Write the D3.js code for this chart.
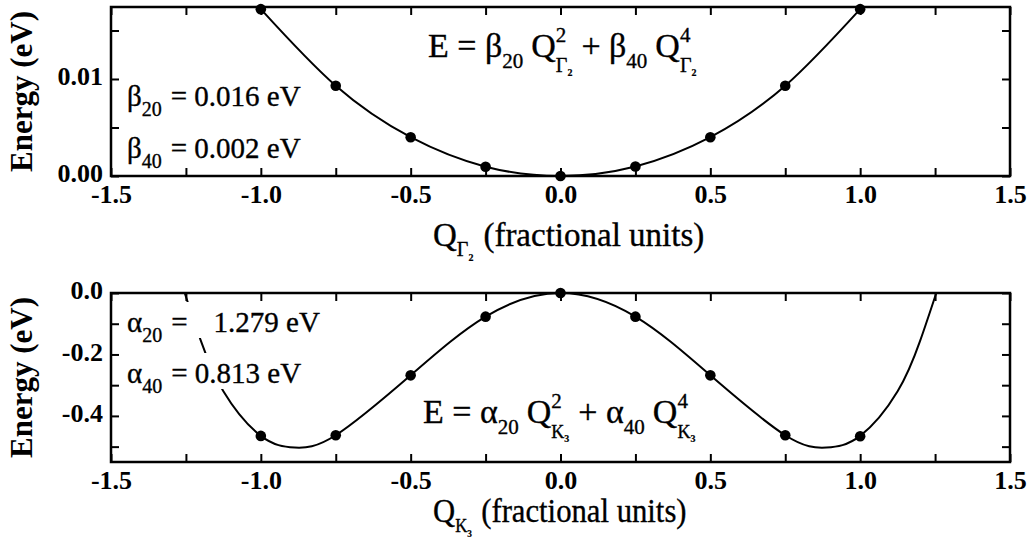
<!DOCTYPE html>
<html>
<head>
<meta charset="utf-8">
<script src="https://cdn.jsdelivr.net/npm/d3@7"></script>
<style>
  body { margin: 0; background: #fff; }
  text { font-family: "Liberation Serif", "Times New Roman", serif; fill: #000; }
</style>
</head>
<body>
<div id="chart"></div>
<script>
// ---- data ----
// sampled displacements (fractional units)
var qSample = [-1.0, -0.75, -0.5, -0.25, 0.0, 0.25, 0.5, 0.75, 1.0];
// Gamma2 mode energies (eV)
var gammaEnergy = [0.0172, 0.0093, 0.0040, 0.00096, 0.0, 0.00098, 0.0040, 0.0093, 0.0172];
// K3 mode energies (eV)
var kappaEnergy = [-0.465, -0.463, -0.268, -0.077, 0.0, -0.077, -0.268, -0.463, -0.466];

// fitted quartic curve of the K3 mode
var kappaCurveQ = [-1.254, -1.2, -1.125, -1.0, -0.887, -0.75, -0.5, -0.25, 0.0, 0.25, 0.5, 0.75, 0.887, 1.0, 1.125, 1.2, 1.254];
var kappaCurveE = [0.0, -0.156, -0.32, -0.465, -0.503, -0.463, -0.268, -0.077, 0.0, -0.077, -0.268, -0.463, -0.503, -0.465, -0.32, -0.156, 0.0];

// ticks
var xTicks = [-1.5, -1.25, -1.0, -0.75, -0.5, -0.25, 0.0, 0.25, 0.5, 0.75, 1.0, 1.25, 1.5];
var xTickLabels = {"-1.5": "-1.5", "-1": "-1.0", "-0.5": "-0.5", "0": "0.0", "0.5": "0.5", "1": "1.0", "1.5": "1.5"};
var yTicksTop = [0.0, 0.005, 0.01, 0.015];
var yTickLabelsTop = {"0": "0.00", "0.01": "0.01"};
var yTicksBottom = [0.0, -0.1, -0.2, -0.3, -0.4, -0.5];
var yTickLabelsBottom = {"0": "0.0", "-0.2": "-0.2", "-0.4": "-0.4"};

var width = 1030, height = 553;

var svg = d3.select("#chart").append("svg")
            .attr("width", width)
            .attr("height", height);

svg.append("rect").attr("width", width).attr("height", height).attr("fill", "#fff");

// lay out a run of text pieces (sub/superscripts) one after another
function richText(g, x, y, parts, boxPad) {
  var grp = g.append("g");
  var curEnd = x, prevStart = x;
  parts.forEach(function(p) {
    var start = p.back ? prevStart : curEnd + (p.gap || 0);
    var el = grp.append("text")
                .attr("x", start)
                .attr("y", y + (p.dy || 0))
                .attr("font-size", p.s)
                .attr("font-weight", p.w || "normal")
                .attr("stroke", "#000")
                .attr("stroke-width", p.s > 15 ? 0.35 : 0.2)
                .text(p.t);
    var w = el.node().getComputedTextLength();
    prevStart = start;
    curEnd = Math.max(p.back ? curEnd : start, start + w);
  });
  if (boxPad) {
    grp.insert("rect", "text")
       .attr("x", x - 2)
       .attr("y", y - boxPad[0])
       .attr("width", curEnd - x + 4)
       .attr("height", boxPad[0] + boxPad[1])
       .attr("fill", "#fff");
  }
  return grp;
}

function drawPanel(opt) {
  var g = svg.append("g");
  var x = d3.scaleLinear().domain([-1.5, 1.5]).range([opt.left, opt.right]);
  var y = d3.scaleLinear().domain(opt.yDomain).range([opt.bottom, opt.top]);

  // curve
  g.append("path")
   .datum(d3.zip(opt.curveQ, opt.curveE))
   .attr("fill", "none")
   .attr("stroke", "#000")
   .attr("stroke-width", 2)
   .attr("d", d3.line()
                .x(function(d) { return x(d[0]); })
                .y(function(d) { return y(d[1]); })
                .curve(d3.curveNatural));

  // sampled points
  g.selectAll(".pt")
   .data(d3.zip(qSample, opt.points))
   .enter()
   .append("circle")
   .attr("class", "pt")
   .attr("cx", function(d) { return x(d[0]); })
   .attr("cy", function(d) { return y(d[1]); })
   .attr("r", 5.3)
   .attr("fill", "#000");

  // axes with inward ticks on all four sides
  var fmtX = function(d) { return xTickLabels[String(+d.toFixed(2))] || ""; };
  var fmtY = function(d) { return opt.yLabels[String(+d.toFixed(3))] || ""; };

  var axB = g.append("g").attr("transform", "translate(0," + opt.bottom + ")")
             .call(d3.axisBottom(x).tickValues(xTicks).tickSizeInner(-8).tickSizeOuter(0)
                     .tickPadding(9).tickFormat(fmtX));
  var axT = g.append("g").attr("transform", "translate(0," + opt.top + ")")
             .call(d3.axisTop(x).tickValues(xTicks).tickSizeInner(-8).tickSizeOuter(0)
                     .tickFormat(""));
  var axL = g.append("g").attr("transform", "translate(" + opt.left + ",0)")
             .call(d3.axisLeft(y).tickValues(opt.yTicks).tickSizeInner(-8).tickSizeOuter(0)
                     .tickPadding(8).tickFormat(fmtY));
  var axR = g.append("g").attr("transform", "translate(" + opt.right + ",0)")
             .call(d3.axisRight(y).tickValues(opt.yTicks).tickSizeInner(-8).tickSizeOuter(0)
                     .tickFormat(""));

  [axB, axT, axL, axR].forEach(function(a) {
    a.select(".domain").remove();
    a.selectAll(".tick line").attr("stroke", "#000").attr("stroke-width", 2);
    a.selectAll("text")
     .attr("font-family", "Liberation Serif")
     .attr("font-size", 26)
     .attr("font-weight", "bold")
     .attr("fill", "#000");
  });
  axL.selectAll("text").attr("dy", "0.22em");

  // frame
  g.append("rect")
   .attr("x", opt.left)
   .attr("y", opt.top)
   .attr("width", opt.right - opt.left)
   .attr("height", opt.bottom - opt.top)
   .attr("fill", "none")
   .attr("stroke", "#000")
   .attr("stroke-width", 2.5);

  // y title
  g.append("text")
   .attr("transform", "translate(32," + ((opt.top + opt.bottom) / 2) + ") rotate(-90)")
   .attr("text-anchor", "middle")
   .attr("font-size", 31)
   .attr("font-weight", "bold")
   .text("Energy (eV)");

  return g;
}

// ---- top panel: Gamma2 ----
var topPanel = drawPanel({
  left: 111, right: 1010, top: 7, bottom: 176,
  yDomain: [0, 0.01742],
  yTicks: yTicksTop, yLabels: yTickLabelsTop,
  curveQ: qSample, curveE: gammaEnergy, points: gammaEnergy
});

richText(topPanel, 428, 57, [
  {t: "E = β", s: 34}, {t: "20", s: 21, dy: 11},
  {t: "Q", s: 34, gap: 8}, {t: "2", s: 21, dy: -15}, {t: "Γ", s: 20, dy: 15, back: true}, {t: "2", s: 10, dy: 19, w: "bold"},
  {t: "+ β", s: 34, gap: 9}, {t: "40", s: 21, dy: 11},
  {t: "Q", s: 34, gap: 8}, {t: "4", s: 21, dy: -15}, {t: "Γ", s: 20, dy: 15, back: true}, {t: "2", s: 10, dy: 19, w: "bold"}
]);

richText(topPanel, 127, 106, [
  {t: "β", s: 29}, {t: "20", s: 20, dy: 10}, {t: "= 0.016 eV", s: 29, gap: 9}
]);
richText(topPanel, 127, 158, [
  {t: "β", s: 29}, {t: "40", s: 20, dy: 10}, {t: "= 0.002 eV", s: 29, gap: 9}
]);

richText(topPanel, 433, 246, [
  {t: "Q", s: 33}, {t: "Γ", s: 20, dy: 10}, {t: "2", s: 10, dy: 15, w: "bold"},
  {t: "(fractional units)", s: 33, gap: 10}
]);

// ---- bottom panel: K3 ----
var bottomPanel = drawPanel({
  left: 111, right: 1010, top: 293, bottom: 462,
  yDomain: [-0.55, 0],
  yTicks: yTicksBottom, yLabels: yTickLabelsBottom,
  curveQ: kappaCurveQ, curveE: kappaCurveE, points: kappaEnergy
});

richText(bottomPanel, 127, 332, [
  {t: "α", s: 29}, {t: "20", s: 20, dy: 10}, {t: "=", s: 29, gap: 9}, {t: "1.279 eV", s: 29, gap: 26}
], [30, 6]);
richText(bottomPanel, 127, 383, [
  {t: "α", s: 29}, {t: "40", s: 20, dy: 10}, {t: "= 0.813 eV", s: 29, gap: 9}
], [30, 6]);

richText(bottomPanel, 423, 423, [
  {t: "E = α", s: 34}, {t: "20", s: 21, dy: 11},
  {t: "Q", s: 34, gap: 8}, {t: "2", s: 21, dy: -15}, {t: "K", s: 18, dy: 15, back: true}, {t: "3", s: 10, dy: 19, w: "bold"},
  {t: "+ α", s: 34, gap: 9}, {t: "40", s: 21, dy: 11},
  {t: "Q", s: 34, gap: 8}, {t: "4", s: 21, dy: -15}, {t: "K", s: 18, dy: 15, back: true}, {t: "3", s: 10, dy: 19, w: "bold"}
]);

var xl = richText(bottomPanel, 433, 522, [
  {t: "Q", s: 33}, {t: "K", s: 18, dy: 10}, {t: "3", s: 10, dy: 15, w: "bold"},
  {t: "(fractional units)", s: 33, gap: 10}
]);
xl.attr("transform", "translate(433,0) scale(0.93,1) translate(-433,0)");
</script>
</body>
</html>
